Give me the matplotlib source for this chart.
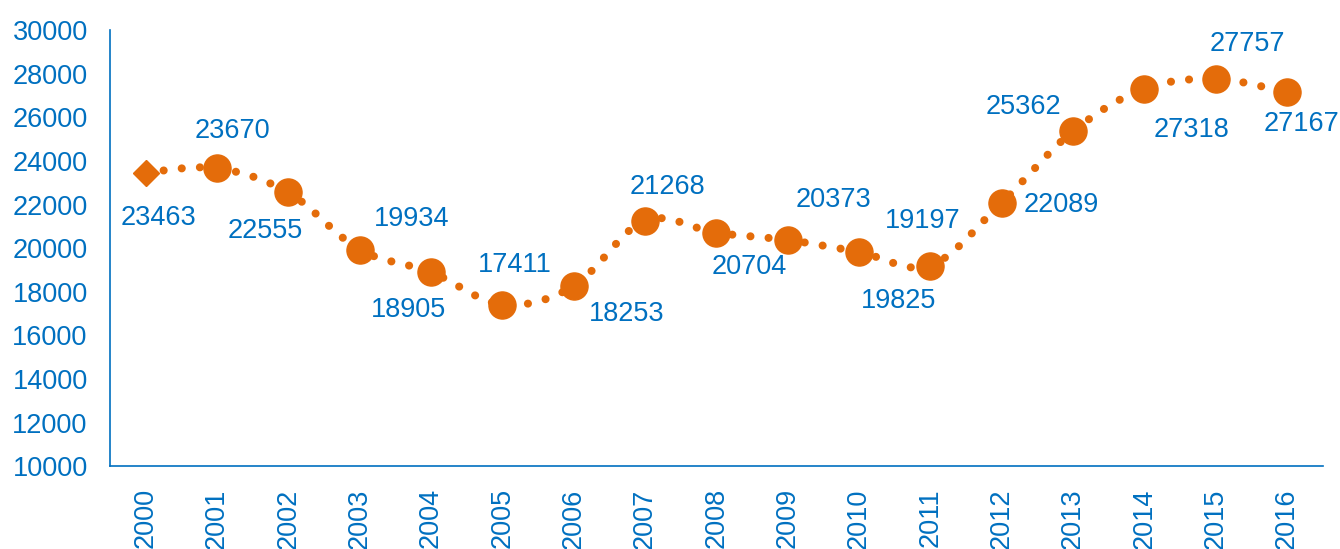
import matplotlib
matplotlib.use("Agg")
import matplotlib.pyplot as plt
from matplotlib.path import Path
from matplotlib.patches import PathPatch

years = [str(y) for y in range(2000, 2017)]
values = [23463, 23670, 22555, 19934, 18905, 17411, 18253, 21268, 20704,
          20373, 19825, 19197, 22089, 25362, 27318, 27757, 27167]
# label offsets from each point, in pixels (dx right, dy down)
label_offsets = [(13, 45), (16, -37), (-23, 39), (52, -31), (-22, 38), (13, -40),
                 (53, 28), (23, -34), (33, 34), (46, -40), (40, 49), (-8, -45),
                 (60, 2), (-49, -24), (47, 41), (32, -35), (15, 32)]

ORANGE = "#E46C0A"
BLUE = "#0070C0"
plt.rcParams['font.family'] = ['Liberation Sans', 'DejaVu Sans']

fig = plt.figure(figsize=(13.4, 5.49), dpi=100)
ax = fig.add_axes([0.082, 0.151, 0.905, 0.794])

# smooth curve through the points (Catmull-Rom style bezier, like Excel smoothing)
xs = list(range(len(values)))
pts = list(zip(xs, values))
verts = [pts[0]]
codes = [Path.MOVETO]
for i in range(len(pts) - 1):
    p0 = pts[i - 1] if i > 0 else pts[i]
    p1 = pts[i]
    p2 = pts[i + 1]
    p3 = pts[i + 2] if i + 2 < len(pts) else pts[i + 1]
    c1 = (p1[0] + (p2[0] - p0[0]) / 6, p1[1] + (p2[1] - p0[1]) / 6)
    c2 = (p2[0] - (p3[0] - p1[0]) / 6, p2[1] - (p3[1] - p1[1]) / 6)
    verts += [c1, c2, p2]
    codes += [Path.CURVE4] * 3
curve = PathPatch(Path(verts, codes), fill=False, edgecolor=ORANGE, linewidth=5.8,
                  linestyle=(0, (0.01, 2.25)), capstyle='round', zorder=2)
ax.add_patch(curve)

ax.plot(xs[1:], values[1:], linestyle='none', marker='o', markersize=19.5,
        color=ORANGE, zorder=3)
ax.plot(xs[:1], values[:1], linestyle='none', marker='D', markersize=13,
        color=ORANGE, zorder=3)

for x, v, (dx, dy) in zip(xs, values, label_offsets):
    ax.annotate(str(v), (x, v), xytext=(dx * 0.72, -dy * 0.72),
                textcoords='offset points', ha='center', va='center',
                fontsize=19.5, color=BLUE)

ax.set_xlim(-0.5, len(values) - 0.5)
ax.set_ylim(10000, 30000)
ax.set_yticks(range(10000, 30001, 2000))
ax.set_xticks(xs)
ax.set_xticklabels(years, rotation=90)
ax.tick_params(axis='y', length=0, pad=16, labelsize=19.5, labelcolor=BLUE)
ax.tick_params(axis='x', length=0, pad=16, labelsize=19.5, labelcolor=BLUE)

for side in ['top', 'right']:
    ax.spines[side].set_visible(False)
for side in ['left', 'bottom']:
    ax.spines[side].set_color(BLUE)
    ax.spines[side].set_linewidth(1.2)

fig.savefig("out.png", dpi=100)
